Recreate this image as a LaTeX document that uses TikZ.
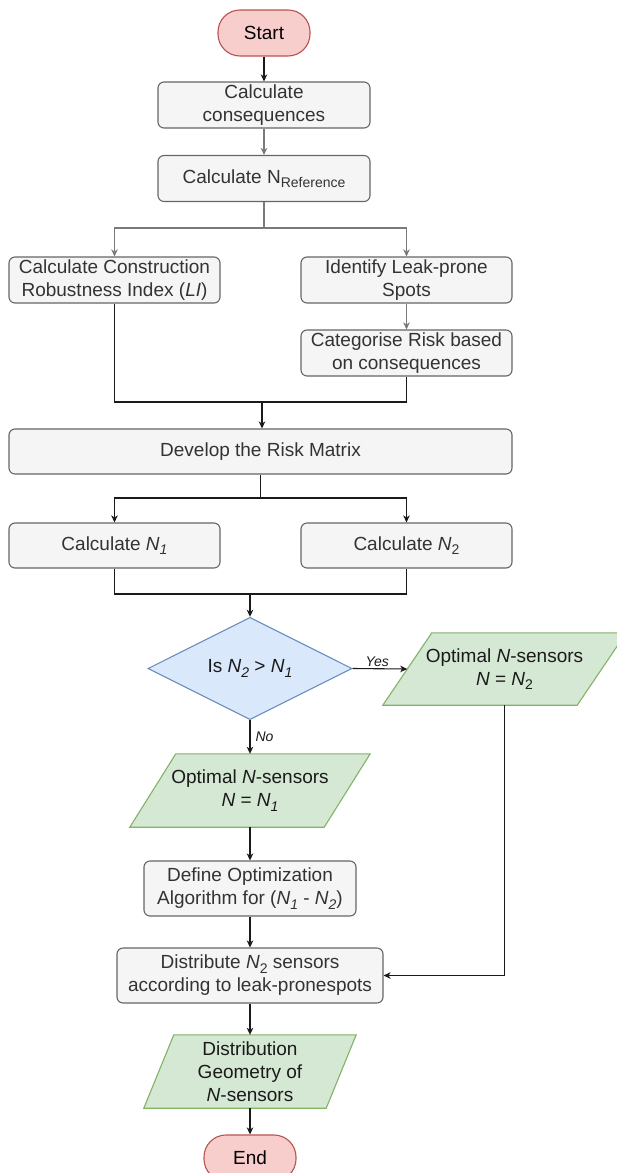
\documentclass[tikz,border=0pt]{standalone}
\usepackage{fontspec}
\setmainfont{Liberation Sans}
\usetikzlibrary{arrows.meta,shapes.geometric,calc,backgrounds}
\definecolor{boxfill}{HTML}{F5F5F5}
\definecolor{boxline}{HTML}{666666}
\definecolor{boxtext}{HTML}{333333}
\definecolor{termfill}{HTML}{F8CECC}
\definecolor{termline}{HTML}{B85450}
\definecolor{decfill}{HTML}{DAE8FC}
\definecolor{decline}{HTML}{6C8EBF}
\definecolor{iofill}{HTML}{D5E8D4}
\definecolor{ioline}{HTML}{82B366}
\definecolor{greyline}{HTML}{7A7A7A}
\definecolor{darkline}{HTML}{1A1A1A}
\newcommand{\lowsub}[1]{\raisebox{-4.5pt}{\fontsize{14}{14}\selectfont #1}}
\newcommand{\drawpara}[2]{%
  \draw[iopoly] ($(#1.south west)+(-#2,0)$) -- ($(#1.north west)+(#2,0)$) --
    ($(#1.north east)+(#2,0)$) -- ($(#1.south east)+(-#2,0)$) -- cycle;}
\begin{document}
\begin{tikzpicture}[x=1pt,y=-1pt,
  font=\fontsize{19}{23}\selectfont,
  stepbox/.style={draw=boxline, fill=boxfill, text=boxtext, rounded corners=6pt,
    line width=1.1pt, inner sep=0pt, align=center},
  term/.style={draw=termline, fill=termfill, text=black, rounded corners=22pt,
    line width=1.1pt, inner sep=0pt, minimum width=92pt, minimum height=46pt},
  decision/.style={diamond, draw=decline, fill=decfill, text=darkline,
    line width=1.1pt, inner sep=0pt, minimum width=204pt, minimum height=91pt},
  iohold/.style={draw=none, inner sep=0pt, align=center, text=darkline},
  iopoly/.style={draw=ioline, fill=iofill, line width=1.1pt},
  gline/.style={draw=greyline, line width=1.1pt},
  garrow/.style={gline, -{Stealth[length=7pt,width=6.5pt,inset=2pt]}},
  bline/.style={draw=darkline, line width=1.1pt},
  barrow/.style={bline, -{Stealth[length=7pt,width=6.5pt,inset=2pt]}},
  lab/.style={font=\fontsize{14}{16}\selectfont\itshape, text=darkline, inner sep=2pt}
]
\useasboundingbox (0,0) rectangle (617,1173);

% nodes
\node[term] (startn) at (264,33) {Start};
\node[stepbox, minimum width=212pt, minimum height=46pt] (cons) at (264,105) {Calculate\\consequences};
\node[stepbox, minimum width=212pt, minimum height=46pt] (nref) at (264,178.5) {Calculate N\lowsub{Reference}};
\node[stepbox, minimum width=211pt, minimum height=46pt] (li) at (114.5,280) {Calculate Construction\\Robustness Index (\textit{LI})};
\node[stepbox, minimum width=211pt, minimum height=46pt] (ident) at (406.5,280) {Identify Leak-prone\\Spots};
\node[stepbox, minimum width=211pt, minimum height=46pt] (categ) at (406.5,353) {Categorise Risk based\\on consequences};
\node[stepbox, minimum width=503pt, minimum height=45pt] (risk) at (260.5,451.5) {Develop the Risk Matrix};
\node[stepbox, minimum width=211pt, minimum height=45pt] (n1) at (114.5,545.5) {Calculate \textit{N}\lowsub{\textit{1}}};
\node[stepbox, minimum width=211pt, minimum height=45pt] (n2) at (406.5,545.5) {Calculate \textit{N}\lowsub{2}};
\node[decision] (dec) at (250,668.5) {Is \textit{N}\lowsub{\textit{2}} > \textit{N}\lowsub{\textit{1}}};
\node[iohold, minimum width=194pt, minimum height=72pt] (o2) at (504.5,669) {Optimal \textit{N}-sensors\\\textit{N} = \textit{N}\lowsub{2}};
\node[iohold, minimum width=194pt, minimum height=73pt] (o1) at (250,790.5) {Optimal \textit{N}-sensors\\\textit{N} = \textit{N}\lowsub{\textit{1}}};
\node[stepbox, minimum width=212pt, minimum height=55pt] (define) at (250,888.5) {Define Optimization\\Algorithm for (\textit{N}\lowsub{\textit{1}} - \textit{N}\lowsub{\textit{2}})};
\node[stepbox, minimum width=266pt, minimum height=55pt] (dist) at (250,975.5) {Distribute \textit{N}\lowsub{2} sensors\\according to leak-pronespots};
\node[iohold, minimum width=182pt, minimum height=73pt] (geom) at (250,1071.5) {Distribution\\Geometry of\\\textit{N}-sensors};
\node[term] (endn) at (250,1158) {End};

\begin{scope}[on background layer]
  \fill[white] (0,0) rectangle (617,1173);
  \drawpara{o2}{24.5}
  \drawpara{o1}{23}
  \drawpara{geom}{15}
\end{scope}

% connectors
\coordinate (s1) at (264,228);
\coordinate (j1) at (262,402);
\coordinate (s2) at (260.5,498);
\coordinate (j2) at (250,594);

\draw[barrow] (startn.south) -- (cons.north);
\draw[garrow] (cons.south) -- (nref.north);
\draw[gline] (nref.south) -- (s1);
\draw[garrow] (s1) -| (li.north);
\draw[garrow] (s1) -| (ident.north);
\draw[garrow] (ident.south) -- (categ.north);
\draw[bline] (li.south) |- (j1) -| (categ.south);
\draw[barrow] (j1) -- (j1 |- risk.north);
\draw[bline] (risk.south) -- (s2);
\draw[barrow] (s2) -| (n1.north);
\draw[barrow] (s2) -| (n2.north);
\draw[bline] (n1.south) |- (j2) -| (n2.south);
\draw[barrow] (j2) -- (dec.north);
\draw[barrow] (dec.east) -- node[lab, above, pos=0.45] {Yes} (o2.west);
\draw[barrow] (dec.south) -- node[lab, right, xshift=3pt] {No} (o1.north);
\draw[barrow] (o1.south) -- (define.north);
\draw[barrow] (define.south) -- (dist.north);
\draw[barrow] (o2.south) |- (dist.east);
\draw[barrow] (dist.south) -- (geom.north);
\draw[barrow] (geom.south) -- (endn.north);
\end{tikzpicture}
\end{document}
